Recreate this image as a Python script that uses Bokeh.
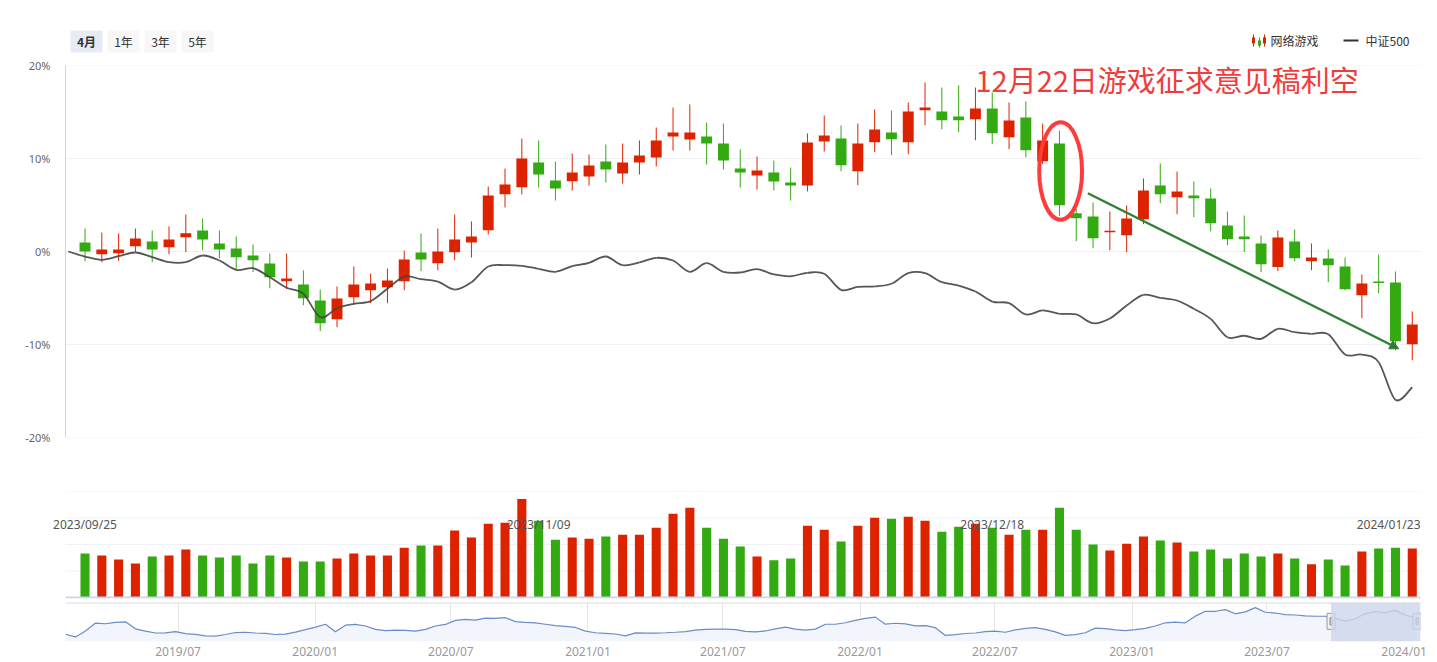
import numpy as np
import pandas as pd
from bokeh.plotting import figure
from bokeh.layouts import column
from bokeh.models import (Range1d, FixedTicker, PrintfTickFormatter, Label, Arrow, NormalHead,
                          Span, BoxAnnotation, DatetimeTickFormatter)
from bokeh.core.properties import value
from bokeh.embed import file_html
from bokeh.resources import INLINE

# ---------------- data ----------------
opens = [0.97, -0.29, -0.18, 0.57, 1.08, 0.46, 1.54, 2.26, 0.86, 0.32,
         -0.43, -1.29, -3.19, -3.55, -5.27, -7.28, -4.91, -4.16, -3.84, -3.19,
         -0.11, -1.25, -0.07, 0.97, 2.29, 6.16, 6.91, 9.57, 7.63, 7.56,
         8.06, 9.68, 8.39, 9.57, 10.11, 12.37, 12.04, 12.37, 11.61, 8.92,
         8.17, 8.49, 7.42, 7.10, 11.83, 12.15, 8.63, 11.75, 12.80, 11.75,
         15.19, 15.05, 14.52, 14.23, 15.38, 12.29, 14.41, 9.71, 11.61, 4.12,
         3.76, 2.08, 1.75, 3.48, 7.10, 5.84, 6.02, 5.70, 2.80, 1.61,
         0.86, -1.68, 1.08, -1.04, -0.75, -1.61, -4.70, -3.23, -3.33, -9.97]
highs = [2.47, 2.04, 1.94, 2.47, 2.26, 2.69, 3.98, 3.55, 2.26, 1.61,
         0.75, -0.22, -0.22, -2.04, -4.09, -3.76, -1.61, -2.37, -1.83, 0.11,
         1.94, 2.47, 3.98, 3.23, 6.99, 8.92, 12.15, 11.94, 9.68, 10.54,
         10.43, 11.51, 11.61, 11.94, 13.33, 15.48, 15.81, 13.87, 13.76, 10.97,
         10.22, 9.78, 9.03, 12.69, 14.62, 13.55, 13.76, 15.27, 15.16, 16.02,
         18.17, 17.63, 17.85, 17.63, 17.10, 16.02, 16.13, 13.76, 13.01, 4.60,
         5.27, 4.30, 4.95, 7.85, 9.46, 8.60, 7.53, 6.77, 4.30, 3.87,
         1.72, 2.26, 2.37, 0.86, 0.22, -0.65, -2.47, -0.32, -2.15, -6.45]
lows = [-1.04, -1.15, -1.04, -0.07, -1.15, -0.29, -0.07, 0.14, -0.72, -2.01,
        -2.22, -3.95, -4.05, -5.77, -8.57, -8.14, -5.67, -5.56, -5.56, -4.16,
        -2.12, -2.01, -0.93, -0.65, 1.83, 4.73, 6.13, 6.88, 5.48, 6.56,
        7.10, 7.42, 7.31, 8.28, 9.14, 10.86, 10.86, 9.35, 8.82, 6.88,
        6.67, 6.56, 5.48, 6.45, 10.75, 8.63, 7.13, 10.68, 10.36, 10.46,
        13.58, 13.15, 12.83, 11.97, 11.54, 11.00, 10.14, 9.40, 3.84, 1.11,
        0.35, 0.14, -0.07, 2.94, 5.20, 4.01, 3.69, 2.18, 0.68, -0.07,
        -2.22, -2.12, -1.04, -2.01, -3.30, -4.16, -7.17, -4.48, -10.61, -11.69]
closes = [0.00, 0.22, 0.22, 1.40, 0.22, 1.29, 1.97, 1.29, 0.22, -0.61,
          -0.93, -2.76, -2.90, -5.02, -7.71, -5.05, -3.55, -3.44, -3.12, -0.86,
          -0.86, 0.00, 1.29, 1.61, 6.02, 7.20, 10.00, 8.28, 6.77, 8.49,
          9.25, 8.82, 9.57, 10.32, 11.94, 12.80, 12.80, 11.61, 9.78, 8.49,
          8.71, 7.53, 7.10, 11.72, 12.47, 9.28, 11.61, 13.12, 12.08, 15.05,
          15.48, 14.12, 14.12, 15.38, 12.72, 14.09, 10.89, 11.94, 4.98, 3.58,
          1.43, 2.22, 3.55, 6.56, 6.16, 6.45, 5.73, 3.04, 1.33, 1.33,
          -1.36, 1.51, -0.72, -0.65, -1.47, -4.05, -3.44, -3.40, -9.65, -7.85]
volumes = [1.66, 1.58, 1.43, 1.28, 1.55, 1.58, 1.81, 1.58, 1.51, 1.58,
           1.28, 1.58, 1.51, 1.36, 1.36, 1.47, 1.66, 1.58, 1.58, 1.88,
           1.96, 1.96, 2.53, 2.26, 2.78, 2.82, 3.72, 2.90, 2.18, 2.26,
           2.22, 2.30, 2.37, 2.37, 2.63, 3.16, 3.39, 2.63, 2.22, 1.92,
           1.55, 1.40, 1.47, 2.71, 2.56, 2.11, 2.71, 3.01, 2.97, 3.05,
           2.90, 2.48, 2.67, 2.78, 2.63, 2.37, 2.56, 2.56, 3.39, 2.56,
           2.00, 1.77, 2.03, 2.30, 2.15, 2.07, 1.73, 1.81, 1.47, 1.66,
           1.55, 1.66, 1.47, 1.25, 1.43, 1.21, 1.73, 1.85, 1.88, 1.85]
# CSI 500 relative change (%), first value is the base day before the window
csi500 = [0.0,
          -0.54, -0.89, -0.51, -0.11, -0.61, -1.15, -1.15, -0.43, -0.97, -1.97,
          -1.80, -2.76, -3.90, -4.55, -7.06, -6.10, -5.62, -5.34, -4.01, -2.69,
          -2.98, -3.23, -4.09, -3.30, -1.61, -1.47, -1.54, -1.86, -2.18, -1.58,
          -1.22, -0.54, -1.47, -1.18, -0.68, -0.97, -2.18, -1.26, -2.18, -2.26,
          -1.90, -2.47, -2.66, -2.29, -2.40, -4.12, -3.80, -3.76, -3.47, -2.33,
          -2.33, -3.30, -3.66, -4.30, -5.38, -5.56, -6.77, -6.34, -6.70, -6.77,
          -7.71, -7.20, -5.81, -4.66, -4.98, -5.27, -6.16, -7.24, -9.22, -9.06,
          -9.39, -8.31, -8.68, -8.85, -8.89, -11.08, -11.08, -11.90, -15.95, -14.59]
date_label_idx = [0, 27, 54, 79]
date_labels = ["2023/09/25", "2023/11/09", "2023/12/18", "2024/01/23"]
y_ticks = [-20, -10, 0, 10, 20]
vol_grid = [1, 2, 3, 4]

# navigator (5-year overview), equally spaced samples
nav_start, nav_end = "2019-01-31", "2024-01-16"
nav_vals = [7.4, 4.7, 10.7, 18.9, 18.2, 19.7, 20.2, 13.0, 10.7, 8.7,
            8.9, 10.2, 8.1, 7.4, 5.7, 5.5, 7.2, 9.2, 9.5, 8.7,
            8.4, 7.2, 7.5, 9.7, 12.1, 14.7, 17.7, 10.0, 16.7, 17.6,
            15.9, 12.5, 11.2, 11.7, 11.4, 10.7, 12.4, 15.9, 17.5, 21.7,
            22.7, 22.0, 23.9, 23.7, 24.4, 20.4, 19.7, 19.1, 17.7, 16.3,
            15.5, 14.4, 10.7, 9.0, 8.4, 7.7, 5.7, 8.9, 8.6, 8.6,
            9.0, 9.5, 10.2, 11.7, 12.5, 12.7, 12.6, 12.1, 10.3, 9.8,
            10.8, 13.0, 14.7, 12.7, 11.7, 12.7, 17.7, 17.7, 19.2, 21.7,
            23.7, 25.0, 17.8, 18.7, 18.0, 16.1, 16.3, 14.2, 6.2, 7.0,
            8.2, 8.7, 10.2, 10.7, 9.5, 11.9, 13.5, 14.2, 12.5, 9.9,
            6.3, 7.1, 9.0, 13.7, 13.2, 11.9, 11.2, 12.2, 13.4, 15.9,
            19.2, 19.9, 19.2, 26.0, 31.0, 31.0, 32.7, 28.4, 30.4, 34.7,
            30.0, 29.2, 27.6, 27.2, 26.3, 25.9, 25.9, 23.7, 20.9, 23.3,
            28.8, 30.7, 29.7, 31.9, 27.2, 24.4]
nav_tick_dates = ["2019-07-01", "2020-01-01", "2020-07-01", "2021-01-01", "2021-07-01",
                  "2022-01-01", "2022-07-01", "2023-01-01", "2023-07-01", "2024-01-01"]

UP, DOWN = "#dd2200", "#33aa11"
CJK = value("Noto Sans CJK SC")
GRID = "#eff1f4"
AXIS = "#ccd6eb"

n = len(opens)
idx = np.arange(n)
colors = [UP if c >= o else DOWN for o, c in zip(opens, closes)]
body_top = [max(o, c) for o, c in zip(opens, closes)]
body_bot = [min(o, c) for o, c in zip(opens, closes)]

W = 1437
LB, RB = 52, 17            # figure borders (frame spans x 52..1420)
PLOT_L, PLOT_R = -1.16, 79.49   # visible plot-area edges in category index units
XR = Range1d(-1.935, PLOT_R)

# ---------------- header (range buttons + legend) ----------------
hdr = figure(width=W, height=55, x_range=Range1d(LB, W - RB), y_range=Range1d(55, 0),
             x_axis_location=None, y_axis_location=None, toolbar_location=None,
             output_backend="svg", min_border_left=LB, min_border_right=RB,
             min_border_top=0, min_border_bottom=0, outline_line_color=None)
hdr.xgrid.visible = False
hdr.ygrid.visible = False
btn_text = ["4月", "1年", "3年", "5年"]
btn_l = [70, 107, 144, 181]
hdr.quad(left=btn_l, right=[b + 32 for b in btn_l], top=[30] * 4, bottom=[52] * 4,
         fill_color=["#e6ebf5", "#f7f7f7", "#f7f7f7", "#f7f7f7"], line_color=None)
hdr.text(x=[btn_l[0] + 16], y=[41], text=[btn_text[0]], text_font=CJK, text_font_size="12px",
         text_font_style="bold", text_color="#333333", text_align="center", text_baseline="middle")
hdr.text(x=[b + 16 for b in btn_l[1:]], y=[41] * 3, text=btn_text[1:], text_font=CJK,
         text_font_size="12px", text_color="#333333", text_align="center", text_baseline="middle")
# legend
hdr.segment(x0=[1253, 1259, 1264], y0=[34, 37, 34], x1=[1253, 1259, 1264], y1=[46, 47, 46],
            line_color=[UP, DOWN, UP], line_width=1)
hdr.quad(left=[1251.5, 1257.5, 1262.5], right=[1254.5, 1260.5, 1265.5],
         top=[37, 40, 37], bottom=[43, 45, 43], fill_color=[UP, DOWN, UP], line_color=None)
hdr.text(x=[1270], y=[40], text=["网络游戏"], text_font=CJK, text_font_size="12px",
         text_color="#333333", text_baseline="middle")
hdr.segment(x0=[1343], y0=[40], x1=[1358], y1=[40], line_color="#333333", line_width=2)
hdr.text(x=[1365], y=[40], text=["中证500"], text_font=CJK, text_font_size="12px",
         text_color="#333333", text_baseline="middle")

# ---------------- main candlestick chart ----------------
main = figure(width=W, height=395, x_range=XR, y_range=Range1d(-20, 20),
              x_axis_location=None, toolbar_location=None, output_backend="svg",
              min_border_left=LB, min_border_right=RB, min_border_top=10, min_border_bottom=13,
              outline_line_color=None)
main.xgrid.visible = False
main.ygrid.visible = False
main.yaxis.ticker = FixedTicker(ticks=y_ticks)
main.yaxis.formatter = PrintfTickFormatter(format="%d%%")
main.yaxis.axis_line_color = None
main.yaxis.major_tick_line_color = None
main.yaxis.minor_tick_line_color = None
main.yaxis.major_tick_out = 0
main.yaxis.major_tick_in = 0
main.yaxis.minor_tick_out = 0
main.yaxis.major_label_standoff = 2
main.yaxis.major_label_text_font_size = "11px"
main.yaxis.major_label_text_color = "#666666"
main.yaxis.major_label_text_font = "Noto Sans"
# grid lines and axis line limited to the plot area
main.segment(x0=[PLOT_L] * len(y_ticks), x1=[PLOT_R] * len(y_ticks), y0=y_ticks, y1=y_ticks,
             line_color=GRID, line_width=1, level="underlay")
main.add_layout(Span(location=PLOT_L, dimension="height", line_color=AXIS, line_width=1))

main.segment(x0=idx, y0=lows, x1=idx, y1=highs, line_color=colors, line_width=1)
main.vbar(x=idx, width=0.65, top=body_top, bottom=body_bot, fill_color=colors, line_color=None)

# CSI 500 as a smooth (Catmull-Rom) curve through the data points
lx = np.arange(-1, n, dtype=float)
ly = np.array(csi500, dtype=float)
m = len(lx)
i0 = np.arange(m - 1)
pm = np.clip(i0 - 1, 0, m - 1)
pp = np.clip(i0 + 2, 0, m - 1)
main.bezier(x0=lx[i0], y0=ly[i0], x1=lx[i0 + 1], y1=ly[i0 + 1],
            cx0=lx[i0] + (lx[i0 + 1] - lx[pm]) / 6, cy0=ly[i0] + (ly[i0 + 1] - ly[pm]) / 6,
            cx1=lx[i0 + 1] - (lx[pp] - lx[i0]) / 6, cy1=ly[i0 + 1] - (ly[pp] - ly[i0]) / 6,
            line_color="#444444", line_width=1.8, line_alpha=0.9)

# annotation
main.ellipse(x=[58.07], y=[8.66], width=2.55, height=10.5, fill_color=None,
             line_color="#ff3b3b", line_width=4)
main.add_layout(Arrow(x_start=59.69, y_start=6.27, x_end=78.2, y_end=-10.46,
                      line_color="#2f7f33", line_width=2.3,
                      end=NormalHead(size=9, fill_color="#2f7f33", line_color="#2f7f33")))
main.add_layout(Label(x=53.0, y=18.6, text="12月22日游戏征求意见稿利空",
                      text_font="Noto Sans CJK SC", text_font_size="29px",
                      text_color="#f23b3b", text_baseline="middle", text_align="left"))

# ---------------- volume ----------------
vol = figure(width=W, height=150, x_range=XR, y_range=Range1d(-0.04, 4),
             x_axis_location=None, y_axis_location=None, toolbar_location=None,
             output_backend="svg", min_border_left=LB, min_border_right=RB,
             min_border_top=41, min_border_bottom=2, outline_line_color=None)
vol.xgrid.visible = False
vol.ygrid.visible = False
vol.segment(x0=[PLOT_L] * 4, x1=[PLOT_R] * 4, y0=vol_grid, y1=vol_grid,
            line_color=GRID, line_width=1, level="underlay")
vol.vbar(x=idx, top=volumes, width=0.54, fill_color=colors, line_color=None)
vol.segment(x0=[PLOT_L], x1=[PLOT_R], y0=[0], y1=[0], line_color=AXIS, line_width=2)
for k, (di, dl) in enumerate(zip(date_label_idx, date_labels)):
    last = k == len(date_labels) - 1
    vol.add_layout(Label(x=PLOT_R if last else di, y=2.77, text=dl,
                         text_align="right" if last else "center", text_baseline="middle",
                         text_font="Noto Sans", text_font_size="12px", text_color="#555555"))

# ---------------- navigator ----------------
nav_dates = pd.date_range(nav_start, nav_end, periods=len(nav_vals))
to_ms = lambda s: pd.Timestamp(s).value / 1e6
nav = figure(width=W, height=62, x_axis_type="datetime",
             x_range=Range1d(to_ms("2019-01-13 13:00"), to_ms("2024-01-23")), y_range=Range1d(0, 40),
             y_axis_location=None, toolbar_location=None, output_backend="svg",
             min_border_left=LB, min_border_right=RB, min_border_top=2, min_border_bottom=20,
             outline_line_color=None)
nav.varea(x=nav_dates, y1=0, y2=nav_vals, fill_color="#f2f5fb")
nav.line(x=nav_dates, y=nav_vals, line_color="#6a8cc7", line_width=1.2)
nav.xaxis.ticker = FixedTicker(ticks=[to_ms(d) for d in nav_tick_dates])
nav.xaxis.formatter = DatetimeTickFormatter(days="%Y/%m", months="%Y/%m", years="%Y/%m")
nav.xaxis.axis_line_color = None
nav.xaxis.major_tick_line_color = None
nav.xaxis.minor_tick_line_color = None
nav.xaxis.major_tick_out = 0
nav.xaxis.major_tick_in = 0
nav.xaxis.minor_tick_out = 0
nav.xaxis.major_label_standoff = 1
nav.xaxis.major_label_text_font = "Noto Sans"
nav.xaxis.major_label_text_font_size = "12px"
nav.xaxis.major_label_text_color = "#999999"
nav.xgrid.grid_line_color = "#e6e6e6"
nav.ygrid.visible = False
nav.segment(x0=[to_ms(nav_start)], x1=[to_ms("2024-01-23")], y0=[39.6], y1=[39.6],
            line_color="#cccccc", line_width=1)
sel_l, sel_r = to_ms("2023-09-25"), to_ms("2024-01-23")
nav.add_layout(BoxAnnotation(left=sel_l, right=sel_r, fill_color="#ccd6eb", fill_alpha=0.8,
                             line_color=None))
nav.rect(x=[sel_l, sel_r - 4e8], y=[20.7, 20.7], width=8, height=16, width_units="screen",
         height_units="screen", fill_color="#f2f2f2", line_color="#999999")
nav.rect(x=[sel_l, sel_r - 4e8], y=[20.7, 20.7], width=2, height=7, width_units="screen",
         height_units="screen", fill_color=None, line_color="#777777")

layout = column(hdr, main, vol, nav, spacing=0)
open("out.html", "w").write(file_html(layout, INLINE))
